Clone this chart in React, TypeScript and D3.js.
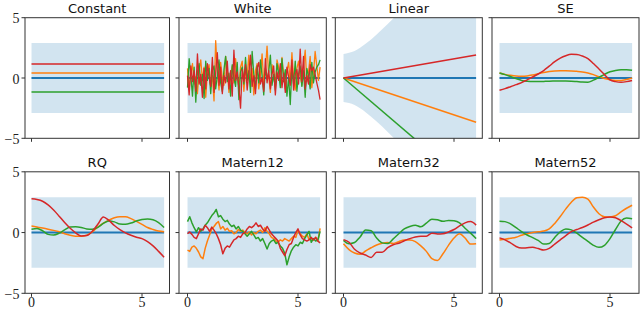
import { useEffect, useRef } from 'react';
import * as d3 from 'd3';

// sample order: orange, green, red (blue is the zero mean)
const sampleColors = ['#ff7f0e', '#2ca02c', '#d62728'];
const meanColor = '#1f77b4';

const titles = ['Constant', 'White', 'Linear', 'SE', 'RQ', 'Matern12', 'Matern32', 'Matern52'];

// half width of the shaded band, evenly spaced over x in [0, 6]
const flatBand = [2.9, 2.9];
const linearBand = [2.0, 2.24, 2.83, 3.61, 4.47, 5.39, 6.32, 7.28, 8.25, 9.22, 10.2, 11.18, 12.17];

// every series is evenly spaced over x in [0, 6]
const constantSamples = [
  [0.42, 0.42],
  [-1.17, -1.17],
  [1.17, 1.17],
];

const whiteSamples = [
  [0.8, -0.9, 0.3, 1.2, -0.5, 0.1, -1.3, 0.6, 1.5, -0.2, 0.9, -1.6, 0.4, 1.1, -0.7, 0.2, -1.9, 3.1, 0.5, -1.0, 1.3, 0.0, -0.6, 1.8, 0.7, -1.2, 0.3, 1.0, -0.4, 1.6, 0.2, -0.8, 0.9, 1.4, -1.1, 0.5, 0.1, 1.9, -0.3, 0.8, -1.4, 0.6, 1.2, -0.9, 0.3, 2.0, -0.5, 0.7, 2.65, 0.1, -1.2, 1.1, 0.4, -0.7, 1.5, 0.9, -0.2, 1.7, 0.3, -0.9, 0.6, 1.3, -0.4, 2.1, 0.0, -1.0, 0.8, 1.4, 0.2, -0.6, 1.0, 2.3, -0.3, 0.5, 1.8, -0.8, 0.4, 2.2, 1.0, -0.2, 0.9],
  [-0.8, 1.6, 0.2, -1.5, 0.9, -2.0, 0.5, 1.2, -0.6, 0.3, -1.7, 1.4, -0.2, 0.8, -1.3, 0.6, 1.0, -0.9, 0.2, 1.5, -0.4, -1.1, 0.7, 1.8, -0.3, 0.4, -1.5, 1.1, 0.0, -0.7, 1.3, -1.8, 0.5, 0.9, -0.5, 1.7, -0.2, 0.6, -1.2, 2.2, 0.3, -0.9, 1.0, -0.4, 1.5, 0.2, -1.4, 0.8, -0.1, 0.5, 1.9, -0.6, 0.3, -1.0, 1.2, 0.4, -0.8, 1.6, -0.3, 0.7, -1.5, 0.1, -2.2, 0.9, -0.5, 1.4, -1.1, 0.3, 1.0, -0.7, 0.6, -1.6, 0.8, 0.2, -0.9, 1.3, -0.4, 0.5, 0.9, 1.1, 1.5],
  [0.2, -1.4, 1.0, -0.3, 0.6, -1.1, 2.0, -0.5, 0.3, -1.6, 0.8, -0.9, 1.2, 0.1, -0.7, 1.7, -1.2, 0.4, 2.1, -0.6, 0.9, -1.3, 0.2, -0.4, 1.4, -0.9, 0.6, -1.5, 2.3, -0.2, 0.5, -0.8, -2.5, 0.7, -0.3, 1.1, -1.0, 0.4, 1.9, -0.7, 0.2, -1.3, 0.8, 1.3, -0.5, 0.0, -1.1, 1.6, -0.4, 0.6, -0.9, 0.3, 1.0, -1.4, 0.5, -0.2, 1.2, -0.8, 0.4, -1.2, 0.9, 0.1, -0.6, 1.5, -1.0, 0.3, 0.7, -0.5, 2.4, -0.3, 1.8, -0.9, 0.2, -0.5, 1.1, 0.6, 0.9, 0.3, -0.4, -1.0, -1.8],
];

const linearSamples = [
  [0, -3.67],
  [0, -9.4],
  [0, 1.9],
];

const seSamples = [
  [0.42, 0.3, 0.22, 0.16, 0.14, 0.17, 0.25, 0.35, 0.45, 0.53, 0.58, 0.6, 0.6, 0.59, 0.55, 0.5, 0.42, 0.28, 0.1, -0.04, -0.15, -0.2, -0.2, -0.12, 0.0],
  [0.42, 0.28, 0.12, -0.05, -0.2, -0.27, -0.3, -0.3, -0.28, -0.26, -0.25, -0.24, -0.24, -0.26, -0.3, -0.34, -0.35, -0.18, 0.05, 0.3, 0.52, 0.63, 0.68, 0.68, 0.64],
  [-1.02, -0.88, -0.72, -0.55, -0.38, -0.15, 0.08, 0.33, 0.62, 0.98, 1.35, 1.65, 1.85, 1.96, 1.95, 1.82, 1.6, 1.2, 0.75, 0.28, -0.15, -0.3, -0.35, -0.3, -0.2],
];

const rqSamples = [
  [0.53, 0.45, 0.37, 0.28, 0.18, 0.06, -0.1, -0.22, -0.3, -0.3, -0.22, 0.05, 0.45, 0.78, 1.02, 1.22, 1.3, 1.3, 1.15, 0.92, 0.68, 0.42, 0.25, 0.12, 0.06],
  [0.28, 0.33, 0.15, -0.15, -0.2, -0.05, 0.22, 0.45, 0.48, 0.42, 0.3, 0.27, 0.42, 0.75, 0.95, 0.88, 0.7, 0.68, 0.78, 0.95, 1.08, 1.12, 1.05, 0.82, 0.42],
  [2.78, 2.72, 2.58, 2.28, 1.86, 1.35, 0.82, 0.35, -0.02, -0.28, -0.25, 0.1, 0.68, 1.28, 1.0, 0.58, 0.25, -0.02, -0.22, -0.38, -0.5, -0.75, -1.1, -1.55, -2.03],
];

const matern12Samples = [
  [-1.45, -1.55, -1.2, -1.1, -1.3, -1.6, -2.0, -2.15, -1.3, -0.7, -0.2, 0.3, 0.5, 0.75, 0.9, 0.3, 0.5, 0.2, 0.35, 0.1, 0.15, -0.1, 0.0, 0.25, 0.1, 0.2, 0.0, -0.1, 0.05, -0.2, 0.0, -0.1, 0.1, 0.2, 0.0, 0.4, 0.1, -0.1, -0.4, -0.5, -0.7, -0.8, -0.6, -0.7, -0.5, -0.6, -0.7, -0.5, -0.3, -0.4, 0.2, -0.1, -0.3, -0.4, -0.1, -0.6, -0.5, -0.6, -0.4, -0.7, 0.35],
  [0.9, 1.3, 0.8, 0.4, 0.05, 0.4, 0.1, 0.3, 0.6, 0.8, 1.1, 1.4, 1.6, 1.9, 1.3, 1.4, 1.1, 0.9, 1.0, 0.7, 0.5, 0.6, 0.3, 0.5, 0.2, 0.1, -0.1, -0.3, -0.1, 0.1, -0.2, -0.5, -0.4, -0.7, -0.5, -0.9, -1.35, -0.9, -0.7, -0.6, -0.9, -0.8, -1.1, -1.3, -1.7, -2.65, -2.0, -1.5, -1.2, -1.0, -1.1, -0.8, -0.9, -0.5, -0.2, 0.1, -0.8, -0.5, -0.7, -0.6, 0.1],
  [-0.1, 0.05, -0.15, -0.4, -0.5, -0.1, 0.3, 0.2, 0.6, 0.4, 0.1, 0.45, 0.2, -0.1, -0.5, -1.0, -1.75, -1.3, -1.1, -1.2, -0.9, -0.6, -0.5, -0.3, -0.4, -0.1, 0.0, 0.3, 0.5, 0.4, 0.55, 0.8, 0.5, 0.6, 0.3, 0.1, 0.5, 0.2, -0.1, -0.3, -0.5, -0.7, -1.3, -1.6, -1.9, -1.4, -1.0, -0.9, -0.4, 0.0, 0.3, -0.2, -0.5, -0.6, -0.7, -0.6, -0.4, -0.6, -0.4, -0.7, -0.85],
];

const matern32Samples = [
  [-0.92, -1.4, -1.68, -1.78, -1.52, -1.25, -1.02, -0.88, -0.82, -0.9, -0.75, -0.62, -0.62, -0.75, -1.1, -1.55, -2.15, -2.3, -1.75, -1.05, -0.45, -0.1, -0.45, -0.95, -0.92],
  [-0.64, -0.92, -0.82, -0.36, 0.2, 0.15, -0.45, -0.85, -0.9, -0.52, -0.1, 0.3, 0.5, 0.6, 0.47, 0.78, 1.1, 1.05, 0.92, 1.0, 0.97, 0.8, 0.35, -0.05, -0.5],
  [-0.58, -0.8, -1.38, -1.68, -1.85, -2.05, -1.62, -1.62, -1.25, -1.0, -0.88, -0.68, -0.5, -0.36, -0.3, -0.3, -0.05, -0.12, -0.1, 0.05, 0.25, 0.55, 0.8, 0.9, 0.61],
];

const matern52Samples = [
  [-0.61, -0.55, -0.47, -0.38, -0.22, -0.1, 0.0, 0.06, 0.12, 0.3, 0.75, 1.32, 1.95, 2.5, 2.86, 2.9, 2.75, 2.1, 1.55, 1.3, 1.28, 1.38, 1.7, 2.0, 2.25],
  [0.94, 0.9, 0.72, 0.4, 0.08, -0.2, -0.42, -0.65, -0.95, -0.9, -0.4, 0.05, 0.3, 0.22, -0.05, -0.4, -0.72, -1.05, -1.22, -1.05, -0.5, 0.25, 0.95, 1.2, 1.14],
  [-0.44, -0.6, -0.85, -1.15, -1.28, -1.25, -1.22, -1.32, -1.44, -1.3, -0.95, -0.6, -0.25, 0.08, 0.25, 0.42, 0.62, 0.86, 1.05, 1.22, 1.28, 1.22, 0.98, 0.7, 0.39],
];

const panelSamples = [constantSamples, whiteSamples, linearSamples, seSamples, rqSamples, matern12Samples, matern32Samples, matern52Samples];
const panelBands = [flatBand, flatBand, linearBand, flatBand, flatBand, flatBand, flatBand, flatBand];
const panelCurves = [d3.curveLinear, d3.curveLinear, d3.curveLinear, d3.curveMonotoneX, d3.curveMonotoneX, d3.curveLinear, d3.curveMonotoneX, d3.curveMonotoneX];

const xTicks = [0, 5];
const yTicks = [-5, 0, 5];
const xSpan = 6;

// layout, per column / row
const colLeft = [25, 179, 335.3, 492];
const colRight = [169.5, 326.3, 482.3, 639];
const colZero = [31.5, 187.5, 343.5, 499.5];
const rowTop = [17.7, 171.8];
const rowBottom = [138.3, 293.3];

const App = () => {
  const ref = useRef<SVGSVGElement>(null);

  useEffect(() => {
    const svg = d3.select(ref.current);
    svg.selectAll('*').remove();

    const pxPerUnit = 22.1;
    const tickColor = '#333';

    titles.forEach((title, i) => {
      const col = i % 4;
      const row = Math.floor(i / 4);
      const left = colLeft[col], right = colRight[col];
      const top = rowTop[row], bottom = rowBottom[row];

      const x = d3.scaleLinear()
        .domain([(left - colZero[col]) / pxPerUnit, (right - colZero[col]) / pxPerUnit])
        .range([left, right]);
      const y = d3.scaleLinear().domain([-5, 5]).range([bottom, top]);

      const g = svg.append('g');
      const clipId = `clip${i}`;
      g.append('clipPath').attr('id', clipId)
        .append('rect')
        .attr('x', left).attr('y', top)
        .attr('width', right - left).attr('height', bottom - top);

      const plot = g.append('g').attr('clip-path', `url(#${clipId})`);

      const band = panelBands[i];
      const bx = (k: number, n: number) => (k * xSpan) / (n - 1);
      const area = d3.area<number>()
        .x((d, k) => x(bx(k, band.length)))
        .y0(d => y(-d))
        .y1(d => y(d))
        .curve(d3.curveMonotoneX);
      plot.append('path')
        .attr('d', area(band))
        .attr('fill', meanColor)
        .attr('fill-opacity', 0.2);

      plot.append('path')
        .attr('d', d3.line<number>().x((d, k) => x(bx(k, 2))).y(d => y(d))([0, 0]))
        .attr('stroke', meanColor)
        .attr('stroke-width', 2)
        .attr('fill', 'none');

      panelSamples[i].forEach((s, j) => {
        const line = d3.line<number>()
          .x((d, k) => x(bx(k, s.length)))
          .y(d => y(d))
          .curve(panelCurves[i]);
        plot.append('path')
          .attr('d', line(s))
          .attr('stroke', sampleColors[j])
          .attr('stroke-width', i === 1 ? 1.3 : 1.5)
          .attr('stroke-linejoin', 'round')
          .attr('fill', 'none');
      });

      // frame
      g.append('rect')
        .attr('x', left).attr('y', top)
        .attr('width', right - left).attr('height', bottom - top)
        .attr('fill', 'none')
        .attr('stroke', tickColor)
        .attr('stroke-width', 1);

      xTicks.forEach(t => {
        g.append('line')
          .attr('x1', x(t)).attr('x2', x(t))
          .attr('y1', bottom).attr('y2', bottom + 3.5)
          .attr('stroke', tickColor);
        if (row === 1) {
          g.append('text')
            .attr('x', x(t)).attr('y', bottom + 13.4)
            .attr('text-anchor', 'middle')
            .attr('font-family', '"Liberation Serif", serif')
            .attr('font-size', 14)
            .attr('fill', '#222')
            .text(String(t));
        }
      });

      yTicks.forEach(t => {
        g.append('line')
          .attr('x1', left - 3.5).attr('x2', left)
          .attr('y1', y(t)).attr('y2', y(t))
          .attr('stroke', tickColor);
        if (col === 0) {
          g.append('text')
            .attr('x', left - 5.5).attr('y', y(t) + 5.6)
            .attr('text-anchor', 'end')
            .attr('font-family', '"Liberation Serif", serif')
            .attr('font-size', 14)
            .attr('fill', '#222')
            .text(t < 0 ? `\u2212${-t}` : String(t));
        }
      });

      g.append('text')
        .attr('x', (left + right) / 2)
        .attr('y', top - 4.8)
        .attr('text-anchor', 'middle')
        .attr('font-family', '"DejaVu Sans", sans-serif')
        .attr('font-size', 13)
        .attr('fill', '#111')
        .text(title);
    });
  }, []);

  return (
    <svg ref={ref} width={640} height={311}
      style={{ position: 'absolute', left: 0, top: 0, background: '#fff' }} />
  );
};

export default App;
